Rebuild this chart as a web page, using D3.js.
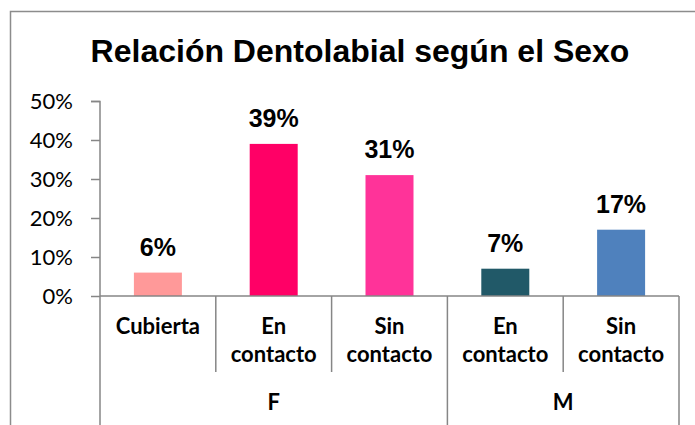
<!DOCTYPE html>
<html><head><meta charset="utf-8">
<script src="https://cdn.jsdelivr.net/npm/d3@7"></script>
<style>
body{margin:0;background:#fff;}
svg{display:block;}
</style></head>
<body>
<svg id="c" width="695" height="425"></svg>
<script>
const title = "Relación Dentolabial según el Sexo";
const categories = ["Cubierta", "En contacto", "Sin contacto", "En contacto", "Sin contacto"];
const categoryLines = [["Cubierta"], ["En", "contacto"], ["Sin", "contacto"], ["En", "contacto"], ["Sin", "contacto"]];
const groups = ["F", "M"];
const groupSizes = [3, 2];
const values = [0.06, 0.39, 0.31, 0.07, 0.17];
const valueLabels = ["6%", "39%", "31%", "7%", "17%"];
const colors = ["#FF9999", "#FF0066", "#FF3399", "#215968", "#4F81BD"];
const yTicks = [0, 0.1, 0.2, 0.3, 0.4, 0.5];

const svg = d3.select("#c");
const axisColor = "#868686";

// outer chart border
svg.append("path").attr("d", "M10.5,425 V11.5 H695")
  .attr("fill", "none").attr("stroke", "#8c8c8c").attr("stroke-width", 1.5);

svg.append("text").attr("x", 360).attr("y", 62).attr("text-anchor", "middle")
  .attr("font-family", "Liberation Sans, Arial, sans-serif").attr("font-weight", "bold")
  .attr("font-size", 32).attr("fill", "#000").text(title);

const x = d3.scaleBand().domain(d3.range(categories.length)).range([100, 679]).paddingInner(0).paddingOuter(0);
const y = d3.scaleLinear().domain([0, 0.5]).range([296, 101]);
const barW = 48;

// y axis
const yAxis = d3.axisLeft(y).tickValues(yTicks).tickFormat(d3.format(".0%")).tickSize(9).tickPadding(18);
const gy = svg.append("g").attr("transform", "translate(100,0)").call(yAxis);
gy.select(".domain").attr("stroke", axisColor).attr("stroke-width", 1.5).attr("d", "M-9,101.5H0V296");
gy.selectAll(".tick line").attr("stroke", axisColor).attr("stroke-width", 1.5);
gy.selectAll(".tick text").attr("font-family", "Lato, sans-serif").attr("font-size", 22).attr("fill", "#000").attr("dy", "0.36em");

// bars
svg.append("g").selectAll("rect").data(values).join("rect")
  .attr("x", (d, i) => x(i) + x.bandwidth() / 2 - barW / 2)
  .attr("width", barW)
  .attr("y", d => y(d))
  .attr("height", d => y(0) - y(d))
  .attr("fill", (d, i) => colors[i]);

// value labels
svg.append("g").selectAll("text").data(values).join("text")
  .attr("x", (d, i) => x(i) + x.bandwidth() / 2)
  .attr("y", d => y(d) - 17)
  .attr("text-anchor", "middle")
  .attr("font-family", "Liberation Sans, Arial, sans-serif").attr("font-weight", "bold")
  .attr("font-size", 25).attr("fill", "#000")
  .text((d, i) => valueLabels[i]);

// x axis line
const xl = svg.append("g").attr("stroke", axisColor).attr("stroke-width", 1.5);
xl.append("line").attr("x1", 100).attr("x2", 679).attr("y1", 296).attr("y2", 296);
// category dividers
let starts = [0];
groupSizes.forEach((s, i) => starts.push(starts[i] + s));
const groupEdges = new Set(starts);
d3.range(categories.length + 1).forEach(i => {
  const xx = i < categories.length ? x(i) : x(categories.length - 1) + x.bandwidth();
  xl.append("line").attr("x1", xx).attr("x2", xx).attr("y1", 296).attr("y2", groupEdges.has(i) ? 425 : 372);
});

// category labels
const cl = svg.append("g").attr("font-family", "Lato, sans-serif").attr("font-weight", "bold")
  .attr("font-size", 22).attr("fill", "#000").attr("text-anchor", "middle");
categoryLines.forEach((lines, i) => {
  lines.forEach((ln, j) => {
    cl.append("text").attr("x", x(i) + x.bandwidth() / 2).attr("y", 334 + j * 28).text(ln);
  });
});
groups.forEach((g, i) => {
  const x0 = x(starts[i]);
  const x1 = x(starts[i + 1] - 1) + x.bandwidth();
  cl.append("text").attr("x", (x0 + x1) / 2).attr("y", 410).text(g);
});
</script>
</body></html>
